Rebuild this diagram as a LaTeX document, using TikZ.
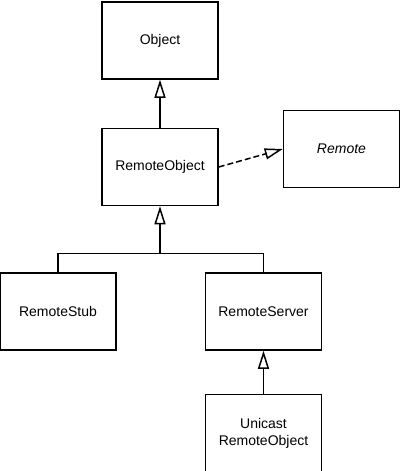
\documentclass[tikz,border=0pt]{standalone}
\usepackage{fontspec}
\setmainfont{Liberation Sans}
\usetikzlibrary{positioning, arrows.meta, calc}

\begin{document}
\begin{tikzpicture}[
    x=1pt, y=1pt,
    cls/.style={rectangle, draw=black, line width=1.5pt, minimum width=116pt, minimum height=77pt, align=center, font=\fontsize{14}{17}\selectfont},
    inh/.style={-{Triangle[open, length=18pt, width=11pt, line width=1.5pt]}, line width=1.5pt, draw=black},
    link/.style={line width=1.5pt, draw=black}
]
    \useasboundingbox (0,0) rectangle (400,-471);

    \node[cls] (obj) at (160,-40.5) {Object};
    \node[cls] (ro) [below=48pt of obj] {RemoteObject};
    \node[cls] (remote) [right=64pt of ro, yshift=18pt] {\itshape Remote};

    \node[cls] (stub) [below=66pt of ro, xshift=-102pt] {RemoteStub};
    \node[cls] (server) [right=88pt of stub] {RemoteServer};
    \node[cls] (uro) [below=43pt of server] {Unicast\\RemoteObject};

    \coordinate (fork) at ($(ro.south)+(0,-47)$);

    \draw[inh] (ro.north) -- (obj.south);
    \draw[inh, dash pattern=on 6pt off 3pt] (ro.east) -- (remote.west);
    \draw[link] (stub.north) |- (fork) -| (server.north);
    \draw[inh] (fork) -- (ro.south);
    \draw[inh] (uro.north) -- (server.south);
\end{tikzpicture}
\end{document}
